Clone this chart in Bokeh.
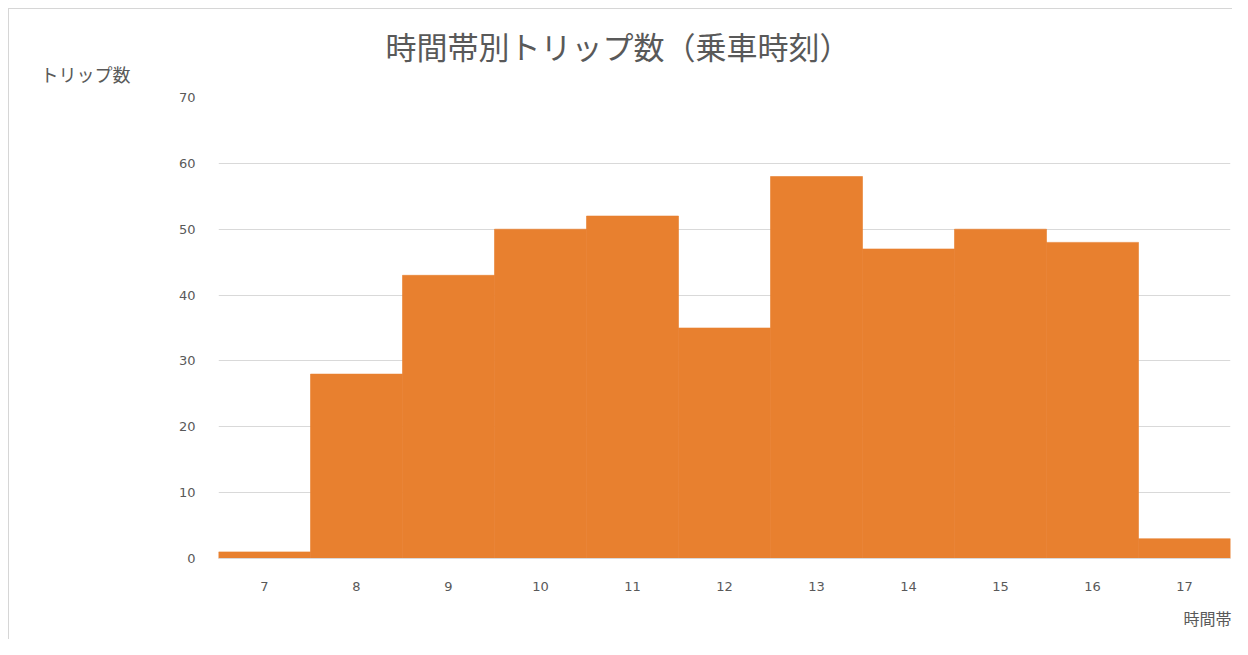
from bokeh.plotting import figure
from bokeh.models import Range1d, FixedTicker, Title, ColumnDataSource
from bokeh.embed import file_html
from bokeh.resources import INLINE

# Data
hours = [7, 8, 9, 10, 11, 12, 13, 14, 15, 16, 17]
trips = [1, 28, 43, 50, 52, 35, 58, 47, 50, 48, 3]
y_ticks = [0, 10, 20, 30, 40, 50, 60, 70]
title_text = "時間帯別トリップ数（乗車時刻）"
y_label_text = "トリップ数"
x_label_text = "時間帯"

JP = "Noto Sans CJK JP"
GRAY = "#595959"
LINE = "#d6d6d6"

p = figure(width=1232, height=639, output_backend="svg", toolbar_location=None,
           x_range=Range1d(6.5, 17.5), y_range=Range1d(0, 70),
           min_border_left=218, min_border_right=2, min_border_top=97, min_border_bottom=78)
p.title = None
p.styles = {
    "background-color": "white",
    "background-image": f"linear-gradient({LINE},{LINE}), linear-gradient({LINE},{LINE})",
    "background-size": "100% 1px, 1px 100%",
    "background-position": "8px 8px, 8px 8px",
    "background-repeat": "no-repeat",
}
p.outline_line_color = None
p.background_fill_color = "white"
p.border_fill_alpha = 0.0

src = ColumnDataSource(dict(x=hours, top=trips))
p.vbar(x="x", top="top", width=1.0, bottom=0, source=src,
       fill_color="#E8802F", line_color="#E8802F", line_width=0.6)

p.xgrid.grid_line_color = None
p.ygrid.grid_line_color = "#d9d9d9"
p.ygrid.grid_line_width = 1
p.ygrid.ticker = FixedTicker(ticks=y_ticks)

p.yaxis.ticker = FixedTicker(ticks=y_ticks)
p.yaxis.axis_line_color = None
p.yaxis.major_tick_line_color = None
p.yaxis.minor_tick_line_color = None
p.yaxis.major_label_text_color = GRAY
p.yaxis.major_label_text_font = "DejaVu Sans"
p.yaxis.major_label_text_font_size = "13px"
p.yaxis.major_label_standoff = 17

p.xaxis.ticker = FixedTicker(ticks=hours)
p.xaxis.axis_line_color = "#d9d9d9"
p.xaxis.major_tick_line_color = None
p.xaxis.minor_tick_line_color = None
p.xaxis.major_label_text_color = GRAY
p.xaxis.major_label_text_font = "DejaVu Sans"
p.xaxis.major_label_text_font_size = "13px"
p.xaxis.major_label_standoff = 17

# y-axis caption (top-left), nearest the frame
p.add_layout(Title(text=y_label_text, align="left", offset=-178, standoff=22,
                   text_font=JP, text_font_size="18px", text_font_style="normal",
                   text_color=GRAY), "above")
# main title stacked above it
p.add_layout(Title(text=title_text, align="left", offset=167, standoff=-40,
                   text_font=JP, text_font_size="31px", text_font_style="normal",
                   text_color=GRAY), "above")
# x-axis caption (bottom-right)
p.add_layout(Title(text=x_label_text, align="left", offset=965, standoff=20,
                   text_font=JP, text_font_size="16px", text_font_style="normal",
                   text_color=GRAY), "below")

open("out.html", "w").write(file_html(p, INLINE))
